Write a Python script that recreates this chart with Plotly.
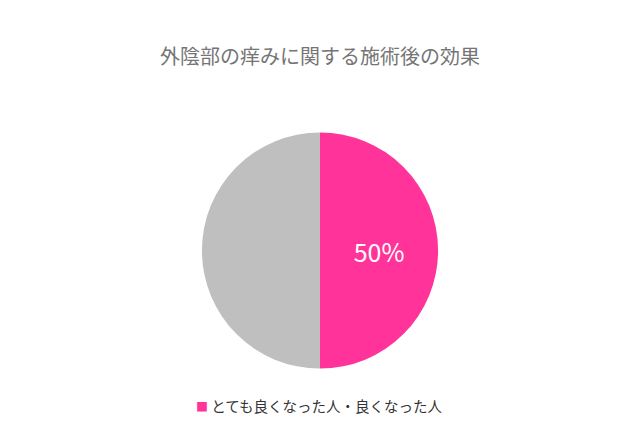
import plotly.graph_objects as go

# data
labels = ["とても良くなった人・良くなった人", "その他"]
values = [50, 50]
colors = ["#FF3399", "#BFBFBF"]
slice_text = ["%{percent:.0%}", ""]
title_text = "外陰部の痒みに関する施術後の効果"

font_jp = "Noto Sans CJK JP"

# the page body adds an 8px offset, so positions are nudged back by that
cx = 312 / 640

fig = go.Figure()

fig.add_trace(go.Pie(
    labels=labels,
    values=values,
    marker=dict(colors=colors, line=dict(width=0)),
    texttemplate=slice_text,
    textposition="inside",
    insidetextfont=dict(family=font_jp, size=25, color="white"),
    sort=False,
    direction="clockwise",
    rotation=0,
    showlegend=False,
    hoverinfo="label+percent",
    domain=dict(x=[0.303, 0.672], y=[0.185, 0.720]),
))

# only the first category is listed below the pie
legend_text = ("<span style='color:%s;font-size:12px'>■</span> %s"
               % (colors[0], labels[0]))

fig.update_layout(
    width=640,
    height=443,
    margin=dict(l=0, r=0, t=0, b=0),
    paper_bgcolor="white",
    plot_bgcolor="white",
    font=dict(family=font_jp),
    showlegend=False,
    title=dict(
        text=title_text,
        x=cx, xanchor="center",
        y=1 - 49 / 443, yanchor="middle",
        font=dict(family=font_jp, size=20, color="#757575"),
    ),
    annotations=[dict(
        text=legend_text,
        xref="paper", yref="paper",
        x=186 / 640, xanchor="left",
        y=1 - 397 / 443, yanchor="middle",
        showarrow=False,
        font=dict(family=font_jp, size=14.5, color="#333333"),
    )],
)

fig.write_html("out.html")
